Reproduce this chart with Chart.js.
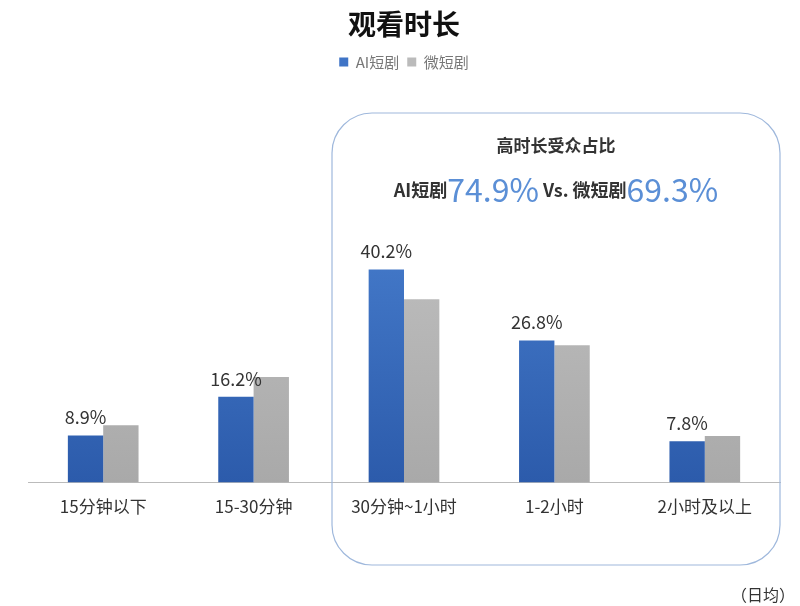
<!DOCTYPE html>
<html><head><meta charset="utf-8">
<script src="https://cdn.jsdelivr.net/npm/chart.js@4"></script>
<style>html,body{margin:0;background:#fff}#wrap{width:800px;height:606px}</style>
</head><body><div id="wrap"><canvas id="c"></canvas></div>
<script>
const categories = ['15分钟以下', '15-30分钟', '30分钟~1小时', '1-2小时', '2小时及以上'];
const aiValues = [8.9, 16.2, 40.2, 26.8, 7.8];
const microValues = [10.8, 19.9, 34.6, 25.9, 8.8];
const seriesNames = ['AI短剧', '微短剧'];
const FONT = '"Noto Sans CJK SC", "Noto Sans", sans-serif';

function grad(ctx, area, top, bottom) {
  if (!area) return top;
  const g = ctx.createLinearGradient(0, area.top, 0, area.bottom);
  g.addColorStop(0, top); g.addColorStop(1, bottom);
  return g;
}

// 圆角框、数值标签和注释
const extras = {
  id: 'extras',
  beforeDatasetsDraw(chart) {
    const c = chart.ctx;
    c.save();
    c.strokeStyle = '#9fb8dc'; c.lineWidth = 1.2;
    c.beginPath(); c.roundRect(332, 113, 448, 452, 40); c.stroke();
    c.restore();
  },
  afterDatasetsDraw(chart) {
    const c = chart.ctx;
    c.save();
    c.font = '18px ' + FONT; c.fillStyle = '#333'; c.textAlign = 'center';
    const meta = chart.getDatasetMeta(0);
    meta.data.forEach((bar, i) => c.fillText(aiValues[i].toFixed(1) + '%', bar.x, bar.y - 18));
    c.font = 'bold 17px ' + FONT; c.fillStyle = '#333';
    c.fillText('高时长受众占比', 556, 146);
    const parts = [['AI短剧', 'bold 18px ', '#333'], ['74.9%', '32px ', '#5b8fd6'], [' Vs. ', 'bold 18px ', '#333'], ['微短剧', 'bold 18px ', '#333'], ['69.3%', '32px ', '#5b8fd6']];
    let w = 0;
    parts.forEach(p => { c.font = p[1] + FONT; w += c.measureText(p[0]).width; });
    let x = 556 - w / 2;
    c.textAlign = 'left';
    parts.forEach(p => { c.font = p[1] + FONT; c.fillStyle = p[2]; c.fillText(p[0], x, 190); x += c.measureText(p[0]).width; });
    c.font = '16px ' + FONT; c.fillStyle = '#333'; c.textAlign = 'right';
    c.fillText('（日均）', 795, 595);
    c.restore();
  }
};

new Chart(document.getElementById('c'), {
  type: 'bar',
  data: {
    labels: categories,
    datasets: [
      { label: seriesNames[0], data: aiValues,
        backgroundColor: ctx => grad(ctx.chart.ctx, ctx.chart.chartArea, '#548ede', '#2c5bab') },
      { label: seriesNames[1], data: microValues,
        backgroundColor: ctx => grad(ctx.chart.ctx, ctx.chart.chartArea, '#cccccc', '#a9a9a9') }
    ]
  },
  options: {
    responsive: true, maintainAspectRatio: false, animation: false,
    layout: { padding: { left: 28, right: 20, top: 0, bottom: 75 } },
    datasets: { bar: { barPercentage: 1, categoryPercentage: 0.47 } },
    scales: {
      x: { grid: { display: false, drawTicks: false }, border: { color: '#bbb' },
           ticks: { color: '#333', font: { size: 17, family: FONT }, padding: 14 } },
      y: { display: false, min: 0, max: 76 }
    },
    plugins: {
      title: { display: true, text: '观看时长', color: '#111', font: { size: 28, weight: 'bold', family: FONT }, padding: { top: 8, bottom: 5 } },
      legend: { position: 'top', labels: { boxWidth: 9, boxHeight: 9, color: '#777', font: { size: 15, family: FONT }, padding: 8,
        generateLabels: () => [
          { text: seriesNames[0], fillStyle: '#3f74c6', strokeStyle: '#3f74c6', lineWidth: 0, fontColor: '#777' },
          { text: seriesNames[1], fillStyle: '#bbbbbb', strokeStyle: '#bbbbbb', lineWidth: 0, fontColor: '#777' }
        ] } },
      tooltip: { enabled: false }
    }
  },
  plugins: [extras]
});
</script></body></html>
